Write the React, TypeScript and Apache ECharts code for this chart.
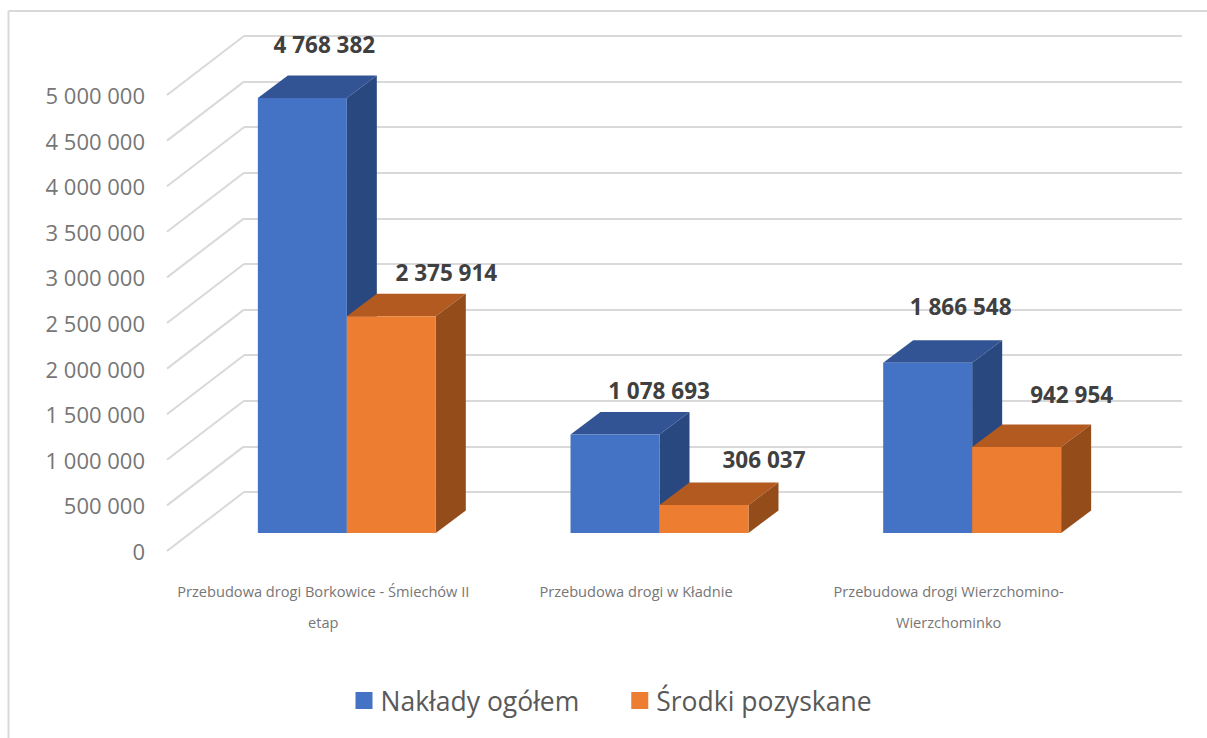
import React, { useEffect, useRef } from "react";
import * as echarts from "echarts";

const categories = [
  "Przebudowa drogi Borkowice - Śmiechów II\netap",
  "Przebudowa drogi w Kładnie",
  "Przebudowa drogi Wierzchomino-\nWierzchominko",
];
const seriesNames = ["Nakłady ogółem", "Środki pozyskane"];
const naklady = [4768382, 1078693, 1866548];
const srodki = [2375914, 306037, 942954];
const yTicks = [0, 500000, 1000000, 1500000, 2000000, 2500000, 3000000, 3500000, 4000000, 4500000, 5000000];

// layout of the pseudo-3D projection, kept apart from the data
const FONT = '"Open Sans", sans-serif';
const WALL_DX = 77;
const WALL_DY = -59;
const BAR_SHIFT_X = 23.5;
const BAR_SHIFT_Y = -18;
const DEPTH_X = 30;
const DEPTH_Y = -22.5;
const nakladyLabelOffsets = [[22, -54], [44, -44], [33, -56]];
const srodkiLabelOffsets = [[55, -44], [60, -46], [55, -53]];

const fmt = (v: number) => String(v).replace(/\B(?=(\d{3})+(?!\d))/g, " ");

function barRenderer(side: number, front: string, top: string, flank: string, offsets: number[][]) {
  return (params: any, api: any) => {
    const cat = api.value(0);
    const val = api.value(1);
    const w = api.size([1, 0])[0] * 0.2846;
    const [cx, cy] = api.coord([cat, val]);
    const [, by] = api.coord([cat, 0]);
    const x0 = cx + BAR_SHIFT_X + (side < 0 ? -w : 0);
    const x1 = x0 + w;
    const yT = cy + BAR_SHIFT_Y;
    const yB = by + BAR_SHIFT_Y;
    const off = offsets[params.dataIndex];
    return {
      type: "group",
      children: [
        { type: "polygon", shape: { points: [[x0, yT], [x1, yT], [x1 + DEPTH_X, yT + DEPTH_Y], [x0 + DEPTH_X, yT + DEPTH_Y]] }, style: { fill: top } },
        { type: "polygon", shape: { points: [[x1, yT], [x1 + DEPTH_X, yT + DEPTH_Y], [x1 + DEPTH_X, yB + DEPTH_Y], [x1, yB]] }, style: { fill: flank } },
        { type: "rect", shape: { x: x0, y: yT, width: w, height: yB - yT }, style: { fill: front } },
        {
          type: "text",
          x: (x0 + x1) / 2 + off[0],
          y: yT + off[1],
          z2: 50,
          style: {
            text: fmt(val),
            fill: "#404040",
            font: `bold 22.5px ${FONT}`,
            textAlign: "center",
            textVerticalAlign: "middle",
          },
        },
      ],
    };
  };
}

export default function App() {
  const ref = useRef<HTMLDivElement>(null);
  useEffect(() => {
    document.body.style.margin = "0";
    const chart = echarts.init(ref.current!, null, { renderer: "svg" });
    chart.setOption({
      animation: false,
      backgroundColor: "#ffffff",
      graphic: [
        { type: "line", shape: { x1: 8.5, y1: 11, x2: 1207, y2: 11 }, style: { stroke: "#d9d9d9", lineWidth: 2 } },
        { type: "line", shape: { x1: 8.5, y1: 11, x2: 8.5, y2: 738 }, style: { stroke: "#d9d9d9", lineWidth: 2 } },
      ],
      legend: {
        data: seriesNames,
        left: 355.5,
        top: 687,
        padding: 0,
        icon: "rect",
        itemWidth: 17,
        itemHeight: 17,
        itemGap: 52,
        textStyle: { fontFamily: FONT, fontSize: 26.5, color: "#595959", padding: [0, 0, 0, 3] },
      },
      grid: [
        { left: 167, top: 95, width: 938, height: 456 },
        { left: 167 + WALL_DX, top: 95 + WALL_DY, width: 938, height: 456 },
      ],
      xAxis: [
        {
          type: "category",
          gridIndex: 0,
          data: categories,
          axisLine: { show: false },
          axisTick: { show: false },
          axisLabel: { color: "#767676", fontFamily: FONT, fontSize: 14.6, lineHeight: 31, margin: 24, interval: 0 },
        },
        { type: "category", gridIndex: 1, data: categories, show: false },
      ],
      yAxis: [
        {
          type: "value",
          gridIndex: 0,
          min: 0,
          max: 5000000,
          interval: 500000,
          axisLine: { show: false },
          axisTick: { show: false },
          splitLine: { show: false },
          axisLabel: { color: "#767676", fontFamily: FONT, fontSize: 22, margin: 22, formatter: (v: number) => fmt(v) },
        },
        {
          type: "value",
          gridIndex: 1,
          min: 0,
          max: 5000000,
          interval: 500000,
          axisLine: { show: false },
          axisTick: { show: false },
          axisLabel: { show: false },
          splitLine: { show: true, lineStyle: { color: "#d9d9d9", width: 2 } },
        },
      ],
      series: [
        {
          type: "custom",
          name: "wall",
          xAxisIndex: 0,
          yAxisIndex: 0,
          clip: false,
          silent: true,
          data: yTicks.map((t) => [0, t]),
          encode: { x: 0, y: 1 },
          renderItem: (_p: any, api: any) => {
            const [, y] = api.coord([0, api.value(1)]);
            const x = api.coord([0, 0])[0] - api.size([1, 0])[0] / 2;
            return {
              type: "line",
              shape: { x1: x, y1: y, x2: x + WALL_DX, y2: y + WALL_DY },
              style: { stroke: "#d9d9d9", lineWidth: 2 },
            };
          },
        },
        {
          type: "custom",
          name: seriesNames[0],
          xAxisIndex: 0,
          yAxisIndex: 0,
          clip: false,
          itemStyle: { color: "#4472C4" },
          data: naklady.map((v, i) => [i, v]),
          encode: { x: 0, y: 1 },
          renderItem: barRenderer(-1, "#4472C4", "#325494", "#2A4880", nakladyLabelOffsets),
        },
        {
          type: "custom",
          name: seriesNames[1],
          xAxisIndex: 0,
          yAxisIndex: 0,
          clip: false,
          itemStyle: { color: "#ED7D31" },
          data: srodki.map((v, i) => [i, v]),
          encode: { x: 0, y: 1 },
          renderItem: barRenderer(1, "#ED7D31", "#B25A20", "#944C1A", srodkiLabelOffsets),
        },
      ],
    });
    return () => chart.dispose();
  }, []);
  return <div ref={ref} style={{ width: 1207, height: 738 }} />;
}
